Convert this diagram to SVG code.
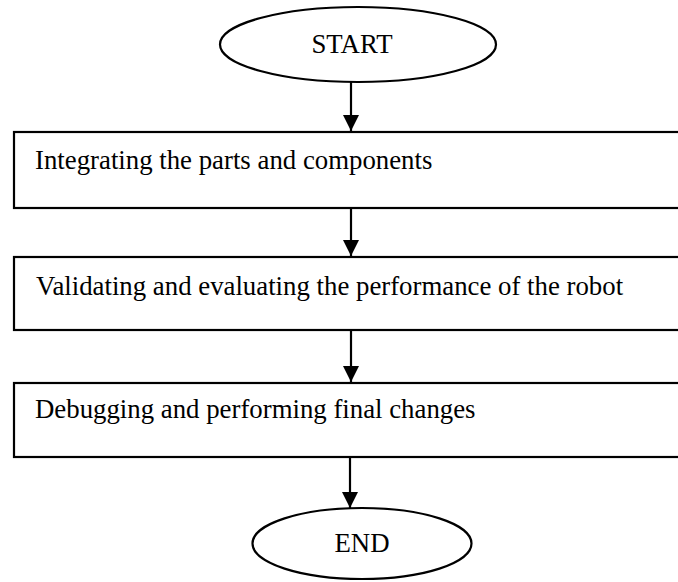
<svg xmlns="http://www.w3.org/2000/svg" width="678" height="582" viewBox="0 0 678 582">
<defs>
<style>
.shape{fill:#fff;stroke:#000;stroke-width:2.2}
.lbl{font-family:"Liberation Serif","Times New Roman",serif;font-size:26.8px;fill:#000}
.c{text-anchor:middle}
.conn{stroke:#000;stroke-width:2.2;fill:none}
</style>
<marker id="ah" markerWidth="16" markerHeight="16" viewBox="0 0 16 16" refX="16" refY="8" orient="auto" markerUnits="userSpaceOnUse">
<path d="M0,0 L16,8 L0,16 Z" fill="#000"/>
</marker>
</defs>
<rect width="678" height="582" fill="#fff"/>
<g id="start">
<ellipse class="shape" cx="358" cy="44.5" rx="138" ry="37.5"/>
<text class="lbl c" x="352" y="53">START</text>
</g>
<g id="integrate">
<rect class="shape" x="14" y="132" width="700" height="76"/>
<text class="lbl" x="35" y="169">Integrating the parts and components</text>
</g>
<g id="validate">
<rect class="shape" x="14" y="257" width="700" height="73"/>
<text class="lbl" x="36" y="295">Validating and evaluating the performance of the robot</text>
</g>
<g id="debug">
<rect class="shape" x="14" y="383" width="700" height="74"/>
<text class="lbl" x="35" y="418">Debugging and performing final changes</text>
</g>
<g id="end">
<ellipse class="shape" cx="362" cy="543.5" rx="109.5" ry="35.5"/>
<text class="lbl c" x="362" y="552">END</text>
</g>
<g id="connectors">
<line class="conn" x1="351" y1="82" x2="351" y2="131" marker-end="url(#ah)"/>
<line class="conn" x1="351" y1="208" x2="351" y2="256" marker-end="url(#ah)"/>
<line class="conn" x1="351" y1="330" x2="351" y2="382" marker-end="url(#ah)"/>
<line class="conn" x1="350" y1="457" x2="350" y2="508" marker-end="url(#ah)"/>
</g>
</svg>
